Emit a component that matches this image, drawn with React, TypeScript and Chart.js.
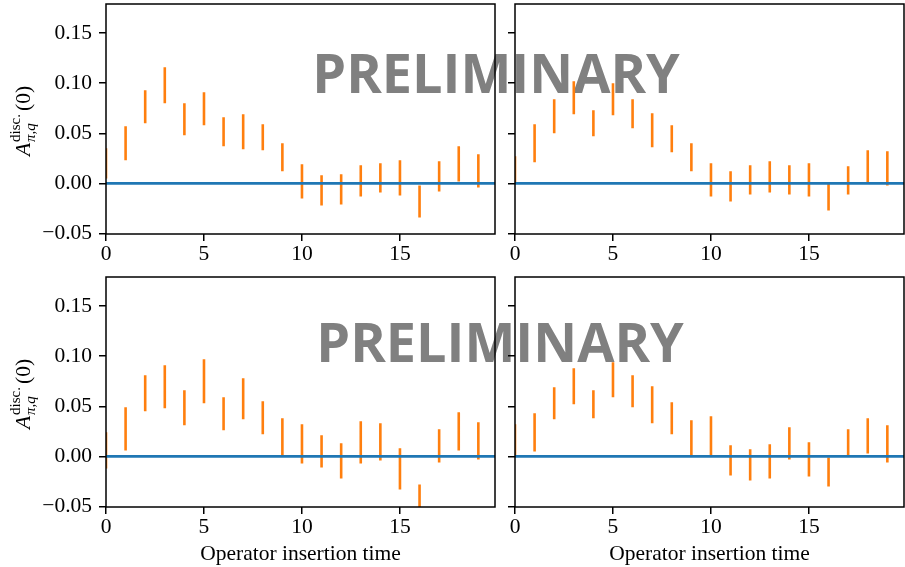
import React, { useEffect, useRef } from 'react';
import { Chart, registerables } from 'chart.js';

Chart.register(...registerables);

// ---------- data ----------
const TIMES = [0, 1, 2, 3, 4, 5, 6, 7, 8, 9, 10, 11, 12, 13, 14, 15, 16, 17, 18, 19];

const TL_LO = [0.005, 0.023, 0.060, 0.080, 0.048, 0.058, 0.037, 0.034, 0.033, 0.012, -0.015, -0.022, -0.021, -0.013, -0.009, -0.012, -0.034, -0.008, 0.002, -0.004];
const TL_HI = [0.035, 0.057, 0.093, 0.116, 0.080, 0.091, 0.066, 0.069, 0.059, 0.040, 0.019, 0.008, 0.009, 0.018, 0.020, 0.023, -0.002, 0.022, 0.037, 0.029];

const TR_LO = [0.000, 0.021, 0.050, 0.069, 0.047, 0.068, 0.055, 0.036, 0.031, 0.012, -0.013, -0.018, -0.011, -0.009, -0.011, -0.013, -0.027, -0.011, 0.001, -0.002];
const TR_HI = [0.027, 0.059, 0.084, 0.102, 0.073, 0.100, 0.084, 0.070, 0.058, 0.040, 0.020, 0.012, 0.018, 0.022, 0.018, 0.020, 0.000, 0.017, 0.033, 0.032];

const BL_LO = [-0.012, 0.006, 0.045, 0.048, 0.031, 0.053, 0.026, 0.037, 0.022, 0.001, -0.007, -0.011, -0.022, -0.007, -0.004, -0.033, -0.058, -0.006, 0.006, -0.003];
const BL_HI = [0.024, 0.049, 0.081, 0.091, 0.066, 0.097, 0.059, 0.078, 0.055, 0.038, 0.032, 0.021, 0.013, 0.035, 0.033, 0.008, -0.028, 0.027, 0.044, 0.034];

const BR_LO = [0.000, 0.005, 0.037, 0.052, 0.038, 0.059, 0.049, 0.033, 0.022, 0.001, 0.001, -0.019, -0.024, -0.022, -0.003, -0.020, -0.030, 0.000, 0.003, -0.006];
const BR_HI = [0.032, 0.043, 0.069, 0.088, 0.066, 0.094, 0.081, 0.070, 0.054, 0.036, 0.040, 0.011, 0.007, 0.012, 0.029, 0.014, -0.001, 0.027, 0.038, 0.031];

const X_MIN = 0;
const X_MAX = 19.85;
const Y_MIN = -0.0505;
const Y_MAX = 0.179;
const X_TICKS = [0, 5, 10, 15];
const Y_TICKS = [-0.05, 0, 0.05, 0.1, 0.15];
const Y_TICK_LABELS = ['\u22120.05', '0.00', '0.05', '0.10', '0.15'];
const ZERO_LEVEL = 0;
const X_TITLE = 'Operator insertion time';
const WATERMARK = 'PRELIMINARY';

// ---------- styles ----------
const SERIF = "'Liberation Serif', 'Times New Roman', serif";
const ORANGE = '#ff7f0e';
const BLUE = '#1f77b4';
const FS = 21.5;

type Spec = {
  lo: number[];
  hi: number[];
  left: number;
  top: number;
  width: number;
  height: number;
  area: { l: number; t: number; r: number; b: number };
  yLabels: boolean;
  xTitle: boolean;
};

const PANELS: Spec[] = [
  { lo: TL_LO, hi: TL_HI, left: 0, top: 0, width: 500, height: 270, area: { l: 106, t: 4, r: 495, b: 234 }, yLabels: true, xTitle: false },
  { lo: TR_LO, hi: TR_HI, left: 410, top: 0, width: 495, height: 270, area: { l: 105, t: 4, r: 494, b: 234 }, yLabels: false, xTitle: false },
  { lo: BL_LO, hi: BL_HI, left: 0, top: 270, width: 500, height: 297, area: { l: 106, t: 7, r: 495, b: 237 }, yLabels: true, xTitle: true },
  { lo: BR_LO, hi: BR_HI, left: 410, top: 270, width: 495, height: 297, area: { l: 105, t: 7, r: 494, b: 237 }, yLabels: false, xTitle: true },
];

const framePlugin = {
  id: 'frame',
  afterDraw(chart: any) {
    const { ctx, chartArea: a } = chart;
    ctx.save();
    ctx.strokeStyle = '#000';
    ctx.lineWidth = 1.5;
    ctx.strokeRect(a.left, a.top, a.right - a.left, a.bottom - a.top);
    ctx.restore();
  },
};

const zeroLinePlugin = {
  id: 'zeroLine',
  afterDatasetsDraw(chart: any) {
    const { ctx, chartArea: a, scales } = chart;
    const y = scales.y.getPixelForValue(ZERO_LEVEL);
    ctx.save();
    ctx.beginPath();
    ctx.rect(a.left, a.top, a.right - a.left, a.bottom - a.top);
    ctx.clip();
    ctx.strokeStyle = BLUE;
    ctx.lineWidth = 2.7;
    ctx.beginPath();
    ctx.moveTo(a.left, y);
    ctx.lineTo(a.right, y);
    ctx.stroke();
    ctx.restore();
  },
};

const yLabelPlugin = {
  id: 'yLabel',
  afterDraw(chart: any) {
    const { ctx, chartArea: a } = chart;
    const cy = (a.top + a.bottom) / 2 + 2;
    const baseX = 30;
    ctx.save();
    ctx.translate(baseX, cy);
    ctx.rotate(-Math.PI / 2);
    ctx.fillStyle = '#000';
    ctx.textBaseline = 'alphabetic';
    ctx.textAlign = 'left';
    const big = `${FS}px ${SERIF}`;
    const bigI = `italic ${FS}px ${SERIF}`;
    const small = `15px ${SERIF}`;
    const smallI = `italic 15px ${SERIF}`;
    ctx.font = bigI;
    const wA = ctx.measureText('A').width;
    ctx.font = small;
    const wSup = ctx.measureText('disc.').width;
    ctx.font = smallI;
    const wSub = ctx.measureText('\u03c0,q').width;
    ctx.font = big;
    const w0 = ctx.measureText('(0)').width;
    const ws = Math.max(wSup, wSub);
    const total = wA + 1 + ws + 3 + w0;
    let u = -total / 2;
    ctx.font = bigI;
    ctx.fillText('A', u, 0);
    u += wA + 1;
    ctx.font = small;
    ctx.fillText('disc.', u, -10);
    ctx.font = smallI;
    ctx.fillText('\u03c0,q', u, 5);
    u += ws + 3;
    ctx.font = big;
    ctx.fillText('(0)', u, 0);
    ctx.restore();
  },
};

function Panel({ spec }: { spec: Spec }) {
  const ref = useRef<HTMLCanvasElement>(null);
  useEffect(() => {
    const canvas = ref.current;
    if (!canvas) return;
    const segs: { x: number; y: number | null }[] = [];
    TIMES.forEach((t, i) => {
      segs.push({ x: t, y: spec.lo[i] }, { x: t, y: spec.hi[i] }, { x: t, y: null });
    });
    const xh = spec.height - spec.area.b;
    const yw = spec.area.l;
    const plugins: any[] = [zeroLinePlugin, framePlugin];
    if (spec.yLabels) plugins.push(yLabelPlugin);
    const chart = new Chart(canvas, {
      type: 'line',
      data: {
        datasets: [
          {
            data: segs as any,
            borderColor: ORANGE,
            borderWidth: 2.6,
            pointRadius: 0,
            pointHoverRadius: 0,
            spanGaps: false,
            clip: 0 as any,
            borderCapStyle: 'butt',
            tension: 0,
          },
        ],
      },
      options: {
        animation: false,
        responsive: false,
        devicePixelRatio: 1,
        events: [],
        layout: { padding: { left: 0, top: spec.area.t, right: spec.width - spec.area.r, bottom: 0 } },
        plugins: { legend: { display: false }, tooltip: { enabled: false } },
        scales: {
          x: {
            type: 'linear',
            min: X_MIN,
            max: X_MAX,
            afterBuildTicks: (s: any) => {
              s.ticks = X_TICKS.map((v) => ({ value: v }));
            },
            afterFit: (s: any) => {
              s.height = xh;
              s.paddingLeft = 0;
              s.paddingRight = 0;
              s.paddingTop = 0;
              s.paddingBottom = 0;
            },
            ticks: {
              autoSkip: false,
              maxRotation: 0,
              padding: 0,
              color: '#000',
              font: { family: SERIF, size: FS, lineHeight: 1.2 },
              callback: (v: any) => String(v),
            },
            grid: { display: true, drawOnChartArea: false, drawTicks: true, tickLength: 7, tickWidth: 1.5, tickColor: '#000', color: '#000', lineWidth: 1.5 },
            border: { display: false },
            title: {
              display: spec.xTitle,
              text: X_TITLE,
              color: '#000',
              font: { family: SERIF, size: FS, lineHeight: 1.2 },
              padding: { top: 0, bottom: 0 },
            },
          },
          y: {
            type: 'linear',
            min: Y_MIN,
            max: Y_MAX,
            afterBuildTicks: (s: any) => {
              s.ticks = Y_TICKS.map((v) => ({ value: v }));
            },
            afterFit: (s: any) => {
              s.width = yw;
              s.paddingLeft = 0;
              s.paddingRight = 0;
              s.paddingTop = 0;
              s.paddingBottom = 0;
            },
            ticks: {
              display: spec.yLabels,
              padding: 7,
              color: '#000',
              font: { family: SERIF, size: FS, lineHeight: 1.2 },
              callback: (_v: any, i: number) => Y_TICK_LABELS[i],
            },
            grid: { display: true, drawOnChartArea: false, drawTicks: true, tickLength: 7, tickWidth: 1.5, tickColor: '#000', color: '#000', lineWidth: 1.5 },
            border: { display: false },
          },
        },
      },
      plugins,
    } as any);
    return () => chart.destroy();
  }, [spec]);
  return (
    <canvas
      ref={ref}
      width={spec.width}
      height={spec.height}
      style={{ position: 'absolute', left: spec.left, top: spec.top, width: spec.width, height: spec.height }}
    />
  );
}

function Watermark() {
  const ref = useRef<HTMLCanvasElement>(null);
  useEffect(() => {
    const c = ref.current;
    if (!c) return;
    const ctx = c.getContext('2d');
    if (!ctx) return;
    const draw = () => {
      ctx.clearRect(0, 0, c.width, c.height);
      ctx.fillStyle = '#808080';
      ctx.font = "bold 54px 'Open Sans', 'DejaVu Sans', sans-serif";
      ctx.textAlign = 'center';
      ctx.textBaseline = 'alphabetic';
      ctx.fillText(WATERMARK, 496, 93);
      ctx.fillText(WATERMARK, 500, 362);
    };
    draw();
    if ((document as any).fonts && (document as any).fonts.load) {
      (document as any).fonts.load("bold 54px 'Open Sans'").then(draw).catch(() => {});
    }
  }, []);
  return <canvas ref={ref} width={905} height={567} style={{ position: 'absolute', left: 0, top: 0 }} />;
}

export default function App() {
  return (
    <div
      style={{
        position: 'fixed',
        left: 0,
        top: 0,
        width: 905,
        height: 567,
        overflow: 'hidden',
        background: '#fff',
      }}
    >
      <Watermark />
      {PANELS.map((p, i) => (
        <Panel key={i} spec={p} />
      ))}
    </div>
  );
}
